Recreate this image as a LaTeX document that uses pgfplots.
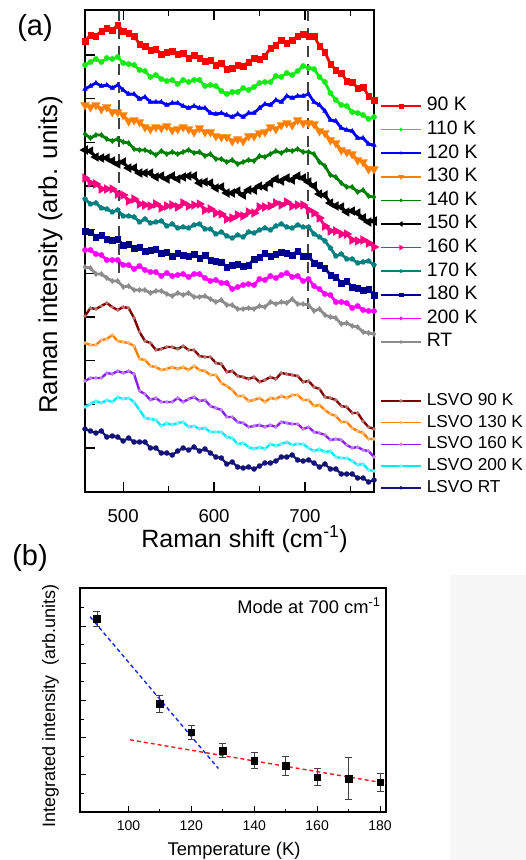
\documentclass[border=0pt]{standalone}
\usepackage{pgfplots}
\pgfplotsset{compat=1.18}
\usepackage{pgfplotstable}
\usepackage{fontspec}
\setmainfont{Liberation Sans}

\newcommand{\fs}[1]{\fontsize{#1pt}{#1pt}\selectfont}

% series colours
\definecolor{c90}{RGB}{255,0,0}
\definecolor{c110}{RGB}{20,235,20}
\definecolor{c120}{RGB}{0,0,255}
\definecolor{c130}{RGB}{255,128,0}
\definecolor{c140}{RGB}{0,128,0}
\definecolor{c150}{RGB}{0,0,0}
\definecolor{c160}{RGB}{255,0,128}
\definecolor{c170}{RGB}{0,128,128}
\definecolor{c180}{RGB}{0,0,140}
\definecolor{c200}{RGB}{255,0,255}
\definecolor{cRT}{RGB}{140,140,140}
\definecolor{l90}{RGB}{128,0,0}
\definecolor{l130}{RGB}{255,128,0}
\definecolor{l160}{RGB}{140,30,240}
\definecolor{l200}{RGB}{0,235,245}
\definecolor{lRT}{RGB}{20,20,120}
\definecolor{fitred}{RGB}{235,30,30}
\definecolor{fitblue}{RGB}{20,40,235}

% Raman spectra, vertically offset (offset units, larger = lower on the plot)
\pgfplotstableread{
x   r90 g110 b120 o130 d140 k150 p160 t170 n180 m200 rt  l90 l130 l160 l200 lrt
458 41  65  89  105 134 150 178 199 231 250 267 316 343 381 407 429
464 35  62  86  107 138 151 183 204 232 250 268 308 345 378 404 431
470 36  59  83  105 135 157 184 203 237 254 274 309 345 378 401 433
476 31  62  86  109 135 158 189 208 235 255 274 306 340 378 403 431
482 28  58  85  107 139 158 189 209 239 260 278 303 339 373 400 437
488 30  59  88  112 141 161 189 212 240 260 281 307 335 374 402 436
494 25  57  85  112 139 164 194 210 239 260 281 310 341 371 397 437
500 31  63  90  115 142 162 195 216 245 265 287 307 342 373 399 441
506 33  64  94  121 143 168 201 216 244 265 286 308 343 371 398 438
512 36  65  94  120 149 168 199 217 248 269 290 318 346 374 402 442
518 44  70  99  122 150 173 204 222 247 266 290 332 359 391 410 442
524 46  71  97  127 150 173 205 219 251 270 290 341 360 394 418 442
530 50  77  102 129 152 173 206 223 250 272 293 343 366 400 419 448
536 49  75  102 127 155 177 204 222 249 272 291 350 367 398 420 448
542 54  79  102 128 151 176 208 221 253 276 291 349 370 402 426 453
548 52  81  105 126 154 179 206 226 252 273 294 347 369 402 423 453
554 51  80  103 130 152 176 205 224 256 276 296 347 367 402 425 455
560 54  84  103 129 154 179 207 228 253 275 293 349 369 398 423 451
566 53  80  106 127 152 177 203 227 255 274 295 346 367 402 422 448
572 58  82  108 129 150 176 206 228 256 277 293 350 370 399 427 450
578 55  80  106 132 153 176 205 225 254 274 297 350 366 397 426 447
584 58  80  108 128 152 183 204 224 258 274 297 356 370 401 429 451
590 61  86  108 132 156 182 210 229 255 278 296 357 371 400 428 449
596 60  85  113 132 154 183 209 229 260 281 299 357 375 406 432 453
602 65  86  114 136 159 188 213 234 261 280 302 363 375 408 432 457
608 63  91  113 137 159 187 214 232 262 283 300 364 383 410 432 458
614 69  94  115 137 162 193 219 236 267 283 305 372 386 417 437 464
620 68  92  117 141 160 193 218 238 265 289 305 371 390 417 438 462
626 65  92  114 139 164 191 215 235 264 287 309 376 396 422 444 467
632 66  88  117 141 162 195 216 237 266 285 309 377 396 423 443 468
638 62  90  113 136 160 190 212 232 265 284 308 379 401 427 447 467
644 58  87  113 136 161 190 213 233 259 285 309 377 400 426 449 469
650 59  83  108 133 156 186 207 230 257 279 306 382 398 425 447 466
656 56  82  104 132 157 187 207 228 253 280 307 380 402 427 449 463
662 48  82  105 127 154 183 206 230 256 276 302 377 398 425 444 463
668 45  76  100 129 151 179 203 226 254 278 304 379 399 427 446 461
674 40  77  102 125 153 181 205 224 252 275 302 373 396 422 444 457
680 43  73  96  123 150 178 202 227 253 273 303 374 398 423 442 457
686 40  75  98  125 151 180 206 228 255 277 299 375 395 424 445 455
692 36  71  96  120 149 176 205 225 251 276 304 376 395 424 444 460
698 34  66  96  123 152 178 205 227 256 281 304 382 400 429 444 461
704 36  68  94  123 152 182 210 227 256 279 305 381 400 427 448 460
710 36  69  102 124 154 186 213 234 263 286 311 387 406 432 451 463
716 46  77  105 131 162 194 218 237 265 289 309 389 405 433 449 467
722 52  82  111 133 166 195 226 241 268 294 315 397 410 435 452 464
728 64  93  120 140 175 203 231 248 275 295 317 398 414 440 451 469
734 70  100 121 143 177 206 231 256 277 302 318 400 416 439 457 469
740 73  105 128 150 183 207 234 254 283 302 324 406 422 440 458 474
746 81  106 130 152 187 212 234 259 281 303 323 407 422 445 458 474
752 82  112 131 154 187 211 240 259 287 308 326 413 428 448 461 474
758 88  113 138 160 192 213 241 263 288 306 327 413 431 447 465 478
764 87  115 138 162 190 218 240 262 290 310 332 421 433 450 464 478
770 96  119 144 169 196 222 243 261 289 311 333 427 439 451 470 482
776 100 117 145 169 197 221 247 265 295 311 334 429 439 457 471 480
}\spectra

% integrated intensity of the 700 cm^-1 mode
\pgfplotstableread{
T   I    err
90  5.19 0.21
110 2.91 0.22
120 2.14 0.18
130 1.65 0.19
140 1.38 0.21
150 1.24 0.25
160 0.94 0.22
170 0.90 0.56
180 0.80 0.24
}\modeint

\pgfplotsset{
  spec/.style={line width=2.8pt, mark size=2.7pt, mark options={solid, line width=0.3pt}},
  lsvo/.style={line width=2.4pt, mark=*, mark size=1.7pt, mark options={solid, draw=#1!55, fill=#1!55, line width=0.2pt}, color=#1},
  leglines/.style={
    legend cell align=left,
    legend image code/.code={\draw[mark repeat=2,mark phase=2,##1,line width=1.6pt,mark size=1.7pt] plot coordinates {(0pt,0pt) (20pt,0pt) (40pt,0pt)};},
  },
}

\begin{document}
\begin{tikzpicture}
% faint panel at the lower right
\fill[black!3] (450pt,-575pt) rectangle (526pt,-860pt);

% ---------------- (a) temperature series ----------------
\begin{axis}[
  at={(85pt,-492pt)}, anchor=south west,
  scale only axis, width=289pt, height=482pt,
  xmin=458, xmax=776, ymin=10, ymax=492, y dir=reverse,
  axis line style={line width=1.8pt},
  xtick={500,600,700}, minor xtick={550,650,750},
  xtick pos=both, xticklabel pos=left,
  ytick={55,98.7,142.3,186,229.7,273.3,317,360.7,404.3,448},
  yticklabels={}, ytick pos=left,
  tick align=inside,
  major tick length=10pt, minor tick length=6pt,
  tick style={black, line width=1.3pt},
  ticklabel style={font=\fs{18.6}},
  xticklabel style={yshift=-14pt},
  /pgf/number format/assume math mode=true,
  leglines,
  legend style={draw=none, fill=none, at={(axis description cs:1.0208,0.820)}, anchor=north west,
    font=\fs{19.4}, row sep=5.6pt, column sep=5pt, inner sep=0pt,
    nodes={inner sep=0pt, text height=14pt, text depth=4pt}},
]
\addplot[spec, c90,  mark=square*] table[x=x,y=r90]{\spectra};  \addlegendentry{90 K}
\addplot[spec, c110, mark=*] table[x=x,y=g110]{\spectra};       \addlegendentry{110 K}
\addplot[spec, c120, mark=triangle*] table[x=x,y=b120]{\spectra}; \addlegendentry{120 K}
\addplot[spec, c130, mark=triangle*, mark options={rotate=180}] table[x=x,y=o130]{\spectra}; \addlegendentry{130 K}
\addplot[spec, c140, mark=diamond*] table[x=x,y=d140]{\spectra}; \addlegendentry{140 K}
\addplot[spec, c150, mark=triangle*, mark options={rotate=90}] table[x=x,y=k150]{\spectra}; \addlegendentry{150 K}
\addplot[spec, c160, mark=triangle*, mark options={rotate=-90}] table[x=x,y=p160]{\spectra}; \addlegendentry{160 K}
\addplot[spec, c170, mark=pentagon*] table[x=x,y=t170]{\spectra}; \addlegendentry{170 K}
\addplot[spec, c180, mark=square*] table[x=x,y=n180]{\spectra}; \addlegendentry{180 K}
\addplot[spec, c200, mark=*] table[x=x,y=m200]{\spectra};       \addlegendentry{200 K}
\addplot[spec, cRT,  mark=diamond*] table[x=x,y=rt]{\spectra};  \addlegendentry{RT}
% guide lines at the two modes
\addplot[forget plot, black!75, line width=2pt, dash pattern=on 11pt off 7pt] coordinates {(495,10) (495,278)};
\addplot[forget plot, black!75, line width=2pt, dash pattern=on 11pt off 7pt] coordinates {(703,10) (703,310)};
\end{axis}

% ---------------- (a) LSVO series ----------------
\begin{axis}[
  at={(85pt,-492pt)}, anchor=south west,
  scale only axis, width=289pt, height=482pt,
  xmin=458, xmax=776, ymin=10, ymax=492, y dir=reverse,
  hide axis,
  leglines,
  legend style={draw=none, fill=none, at={(axis description cs:1.0208,0.207)}, anchor=north west,
    font=\fs{17.3}, row sep=4.7pt, column sep=5pt, inner sep=0pt,
    nodes={inner sep=0pt, text height=13pt, text depth=4pt}},
]
\addplot[lsvo=l90]  table[x=x,y=l90]{\spectra};  \addlegendentry{LSVO 90 K}
\addplot[lsvo=l130] table[x=x,y=l130]{\spectra}; \addlegendentry{LSVO 130 K}
\addplot[lsvo=l160] table[x=x,y=l160]{\spectra}; \addlegendentry{LSVO 160 K}
\addplot[lsvo=l200] table[x=x,y=l200]{\spectra}; \addlegendentry{LSVO 200 K}
\addplot[line width=2.2pt, lRT, mark=*, mark size=2.6pt, mark options={solid, line width=0.2pt}] table[x=x,y=lrt]{\spectra}; \addlegendentry{LSVO RT}
\end{axis}

\node[font=\fs{29}] at (35pt,-28pt) {(a)};
\node[font=\fs{25.8}, rotate=90, anchor=base] at (57pt,-255pt) {Raman intensity (arb. units)};
\node[font=\fs{25}, anchor=base] at (244.5pt,-547pt) {Raman shift (cm\textsuperscript{-1})};

% ---------------- (b) integrated intensity ----------------
\begin{axis}[
  at={(80pt,-812pt)}, anchor=south west,
  scale only axis, width=306pt, height=224pt,
  xmin=84.6, xmax=181.9, ymin=0, ymax=6.02,
  axis line style={line width=1.3pt},
  xtick={100,120,...,180}, minor x tick num=1, xtick pos=left,
  ytick={1,...,5}, minor ytick={0.5,1.5,...,5.5}, yticklabels={}, ytick pos=left,
  tick align=inside,
  major tick length=6pt, minor tick length=3.5pt,
  tick style={black, line width=0.9pt},
  ticklabel style={font=\fs{14}},
  xticklabel style={yshift=-5pt},
  /pgf/number format/assume math mode=true,
]
\addplot[fitblue, line width=1.4pt, dash pattern=on 4pt off 3pt] coordinates {(87.8,5.25) (128.6,1.17)};
\addplot[fitred, line width=1.4pt, dash pattern=on 4pt off 3pt] coordinates {(100.5,1.94) (181.9,0.771)};
\addplot[draw=none, mark=square*, mark size=3.3pt, mark options={black},
  error bars/.cd, y dir=both, y explicit,
  error bar style={black!75, line width=0.8pt},
  error mark options={rotate=90, mark size=3.5pt, black!75, line width=0.8pt}]
  table[x=T, y=I, y error=err]{\modeint};
\end{axis}

\node[font=\fs{18.3}, anchor=base east] at (384pt,-613pt) {Mode at 700 cm\textsuperscript{-1}};
\node[font=\fs{29}] at (30pt,-558pt) {(b)};
\node[font=\fs{18}, rotate=90, anchor=base] at (55pt,-706pt) {Integrated intensity\ \ (arb.units)};
\node[font=\fs{18.4}, anchor=base] at (234pt,-855pt) {Temperature (K)};

\pgfresetboundingbox
\path[use as bounding box] (0pt,0pt) rectangle (526pt,-860pt);
\end{tikzpicture}
\end{document}
